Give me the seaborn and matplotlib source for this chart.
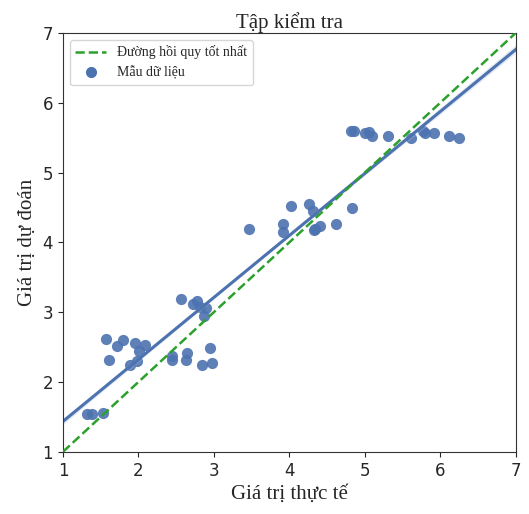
import matplotlib
matplotlib.use('Agg')
import matplotlib.pyplot as plt
import numpy as np
import pandas as pd
import seaborn as sns
from matplotlib.lines import Line2D

# actual values (x)
actual = [1.32, 1.38, 1.53, 1.57, 1.61, 1.72, 1.79, 1.89, 1.96, 1.98, 2.01, 2.09,
          2.44, 2.45, 2.56, 2.63, 2.64, 2.72, 2.77, 2.81, 2.84, 2.87, 2.90, 2.95, 2.97,
          3.47, 3.92, 3.92, 4.02, 4.26, 4.31, 4.32, 4.34, 4.40, 4.62, 4.83,
          4.82, 4.85, 5.00, 5.06, 5.10, 5.31, 5.61, 5.77, 5.80, 5.92, 6.12, 6.25]
# predicted values (y)
predicted = [1.54, 1.54, 1.56, 2.62, 2.31, 2.51, 2.60, 2.24, 2.56, 2.30, 2.45, 2.53,
             2.37, 2.31, 3.19, 2.31, 2.41, 3.12, 3.16, 3.08, 2.24, 2.94, 3.06, 2.49, 2.27,
             4.19, 4.26, 4.15, 4.52, 4.55, 4.45, 4.17, 4.19, 4.23, 4.27, 4.49,
             5.60, 5.60, 5.56, 5.58, 5.53, 5.53, 5.49, 5.60, 5.56, 5.56, 5.53, 5.49]

df = pd.DataFrame({'actual': actual, 'predicted': predicted})

sns.set_style('ticks')
plt.rcParams['font.family'] = ['DejaVu Sans']
serif = ['Liberation Serif', 'DejaVu Serif']

blue = sns.color_palette('deep')[0]

fig = plt.figure(figsize=(5.29, 5.14), dpi=100)
ax = fig.add_axes([0.119, 0.121, 0.856, 0.815])

ax.plot([1, 7], [1, 7], '--', color='#2ca02c', lw=1.8, zorder=3)
sns.regplot(data=df, x='actual', y='predicted', ax=ax, color=blue, ci=30,
            scatter_kws={'s': 65, 'alpha': 0.9, 'linewidths': 0},
            line_kws={'lw': 2.2}, truncate=False)

ax.set_xlim(1, 7)
ax.set_ylim(1, 7)
ax.set_xticks(range(1, 8))
ax.set_yticks(range(1, 8))
ax.tick_params(labelsize=12)
for s in ax.spines.values():
    s.set_visible(True)
    s.set_color('#333333')

ax.set_title('Tập kiểm tra', family=serif, fontsize=15, pad=3)
ax.set_xlabel('Giá trị thực tế', family=serif, fontsize=15)
ax.set_ylabel('Giá trị dự đoán', family=serif, fontsize=15)

handles = [Line2D([], [], ls='--', color='#2ca02c', lw=1.8),
           Line2D([], [], ls='', marker='o', color=blue, markersize=7)]
ax.legend(handles, ['Đường hồi quy tốt nhất', 'Mẫu dữ liệu'], loc='upper left',
          prop={'family': serif, 'size': 10}, handlelength=2.2)

fig.savefig('out.png', dpi=100)
